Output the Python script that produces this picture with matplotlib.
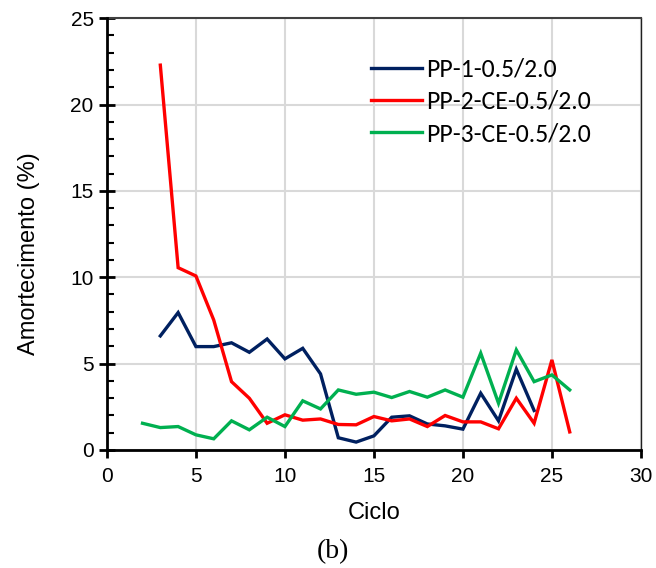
import matplotlib.pyplot as plt
from matplotlib.ticker import MultipleLocator

# ciclo numbers
ciclo_pp1 = list(range(3, 25))
ciclo_pp2 = list(range(3, 27))
ciclo_pp3 = list(range(2, 27))

# amortecimento (%)
pp1 = [6.6, 7.95, 5.98, 5.98, 6.2, 5.65, 6.42, 5.27, 5.88, 4.4, 0.7, 0.45,
       0.81, 1.89, 1.97, 1.5, 1.39, 1.2, 3.28, 1.68, 4.67, 2.28]
pp2 = [22.28, 10.55, 10.07, 7.52, 3.95, 2.99, 1.54, 2.03, 1.72, 1.79, 1.47, 1.45,
       1.93, 1.68, 1.79, 1.35, 1.99, 1.62, 1.62, 1.22, 2.99, 1.54, 5.21, 1.04]
pp3 = [1.54, 1.29, 1.35, 0.87, 0.64, 1.68, 1.16, 1.89, 1.35, 2.84, 2.37, 3.47,
       3.22, 3.34, 3.03, 3.38, 3.05, 3.47, 3.05, 5.6, 2.7, 5.79, 3.95, 4.34, 3.47]

labels = ["PP-1-0.5/2.0", "PP-2-CE-0.5/2.0", "PP-3-CE-0.5/2.0"]
colors = ["#002060", "#ff0000", "#00b050"]

plt.rcParams["font.family"] = ["Liberation Sans", "DejaVu Sans"]

fig = plt.figure(figsize=(6.56, 5.68), dpi=100)
ax = fig.add_axes([0.163, 0.208, 0.814, 0.76])

for xs, ys, lab, c in zip([ciclo_pp1, ciclo_pp2, ciclo_pp3], [pp1, pp2, pp3], labels, colors):
    ax.plot(xs, ys, color=c, linewidth=2.4, label=lab, solid_joinstyle="miter", zorder=3)

ax.set_xlim(0, 30)
ax.set_ylim(0, 25)
ax.xaxis.set_major_locator(MultipleLocator(5))
ax.yaxis.set_major_locator(MultipleLocator(5))
ax.yaxis.set_minor_locator(MultipleLocator(1))
ax.grid(True, which="major", color="#d9d9d9", linewidth=1.5, zorder=0)

for s in ["left", "bottom"]:
    ax.spines[s].set_linewidth(2)
    ax.spines[s].set_zorder(4)
ax.spines["top"].set_linewidth(1.5)
ax.spines["top"].set_color("#404040")
ax.spines["right"].set_linewidth(1)
ax.spines["right"].set_color("#202020")

ax.tick_params(axis="x", which="major", direction="out", length=6, width=2,
               labelsize=15, pad=6)
ax.tick_params(axis="y", which="major", direction="inout", length=11, width=2,
               labelsize=15, pad=4)
ax.tick_params(axis="y", which="minor", direction="in", length=5, width=1.5)

ax.set_xlabel("Ciclo", fontsize=17, labelpad=12)
ax.set_ylabel("Amortecimento (%)", fontsize=17)
ax.yaxis.set_label_coords(-0.126, 0.454)

ax.legend(loc="upper left", bbox_to_anchor=(0.451, 0.962), frameon=False,
          handlelength=2.0, handletextpad=0.15, labelspacing=0.36,
          prop={"family": ["Carlito", "Lato", "DejaVu Sans"], "size": 18.5})

fig.text(0.508, 0.018, "(b)", fontsize=20, family="Liberation Serif", ha="center")

fig.savefig("out.png", dpi=100)
